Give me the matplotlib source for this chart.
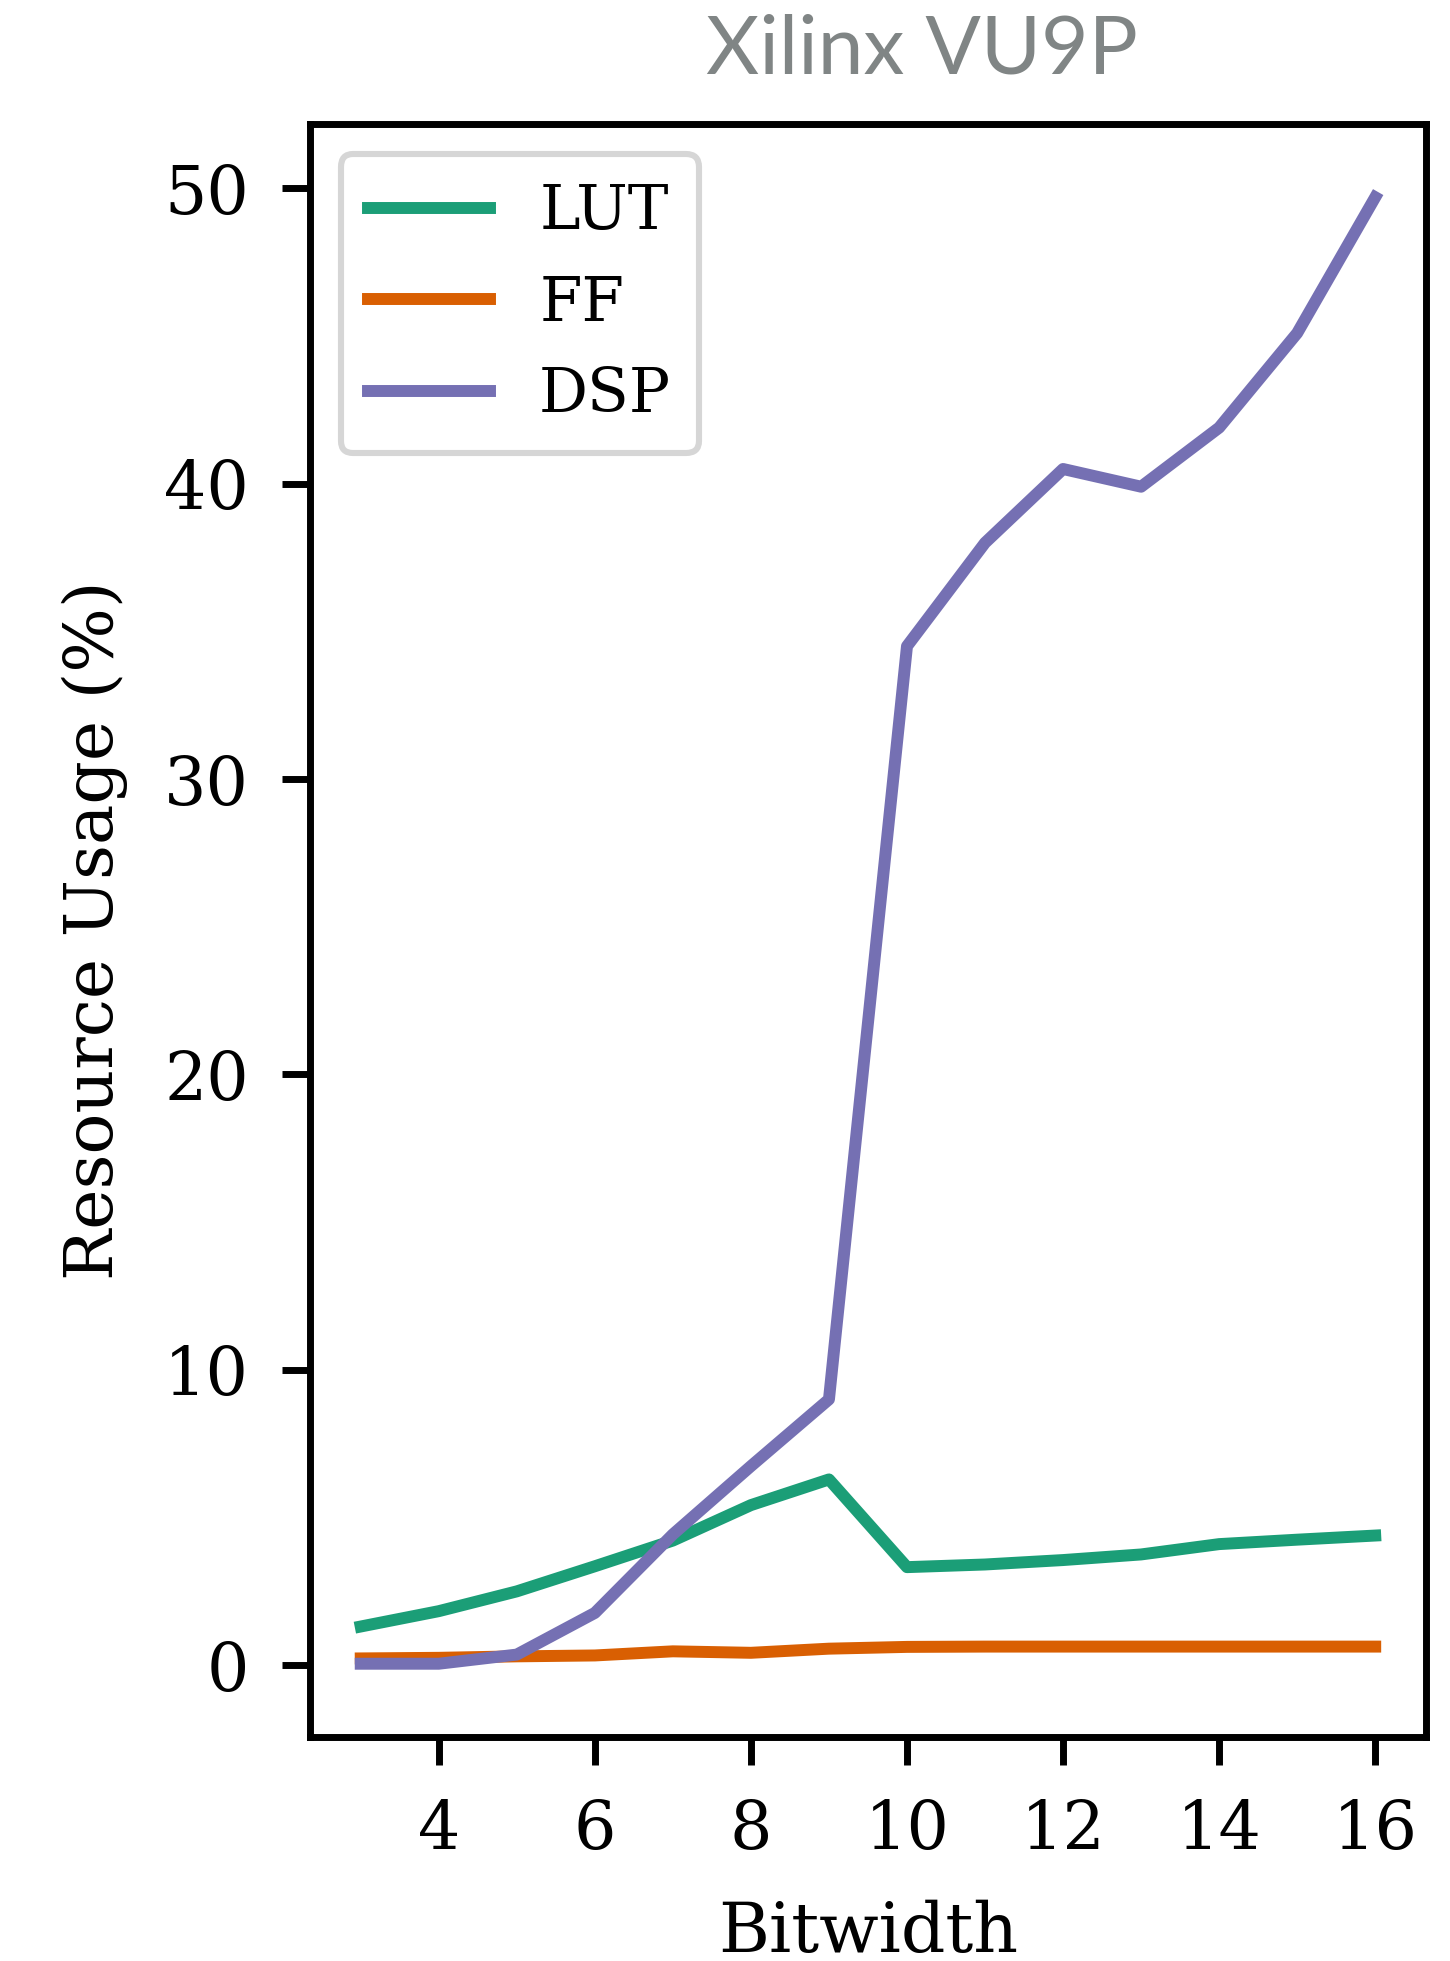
import matplotlib
matplotlib.use("Agg")
import matplotlib.pyplot as plt

# resource usage per bitwidth on the VU9P
bitwidth = [3, 4, 5, 6, 7, 8, 9, 10, 11, 12, 13, 14, 15, 16]
lut = [1.31, 1.83, 2.5, 3.35, 4.22, 5.42, 6.29, 3.32, 3.41, 3.56, 3.75, 4.1, 4.25, 4.39]
ff = [0.23, 0.25, 0.3, 0.33, 0.47, 0.42, 0.56, 0.62, 0.63, 0.63, 0.63, 0.63, 0.63, 0.63]
dsp = [0.05, 0.05, 0.36, 1.77, 4.43, 6.74, 9.0, 34.5, 38.0, 40.5, 39.9, 41.9, 45.1, 49.7]

series = [("LUT", lut, "#1b9e77"), ("FF", ff, "#d95f02"), ("DSP", dsp, "#7570b3")]

plt.rcParams["font.family"] = "DejaVu Serif"

fig = plt.figure(figsize=(7.25, 9.805), dpi=200)
ax = fig.add_axes([0.2138, 0.1142, 0.7696, 0.8226])

for name, vals, col in series:
    ax.plot(bitwidth, vals, color=col, linewidth=4.3, label=name)

ax.set_xticks([4, 6, 8, 10, 12, 14, 16])
ax.set_yticks([0, 10, 20, 30, 40, 50])
ax.tick_params(labelsize=24, length=10, width=2.5, pad=12)
for sp in ax.spines.values():
    sp.set_linewidth(2.5)

ax.set_xlabel("Bitwidth", fontsize=25, labelpad=13)
ax.set_ylabel("Resource Usage (%)", fontsize=24.5, labelpad=13)

leg = ax.legend(loc="upper left", fontsize=22, labelspacing=0.52,
                handlelength=2.0, handletextpad=0.8, borderpad=0.45,
                borderaxespad=0.5)
leg.get_frame().set_linewidth(2.2)

fig.text(0.636, 0.9745, "Xilinx VU9P", family="Lato", fontsize=29.5,
         color="#808585", ha="center", va="center")

fig.savefig("out.png", dpi=200)
